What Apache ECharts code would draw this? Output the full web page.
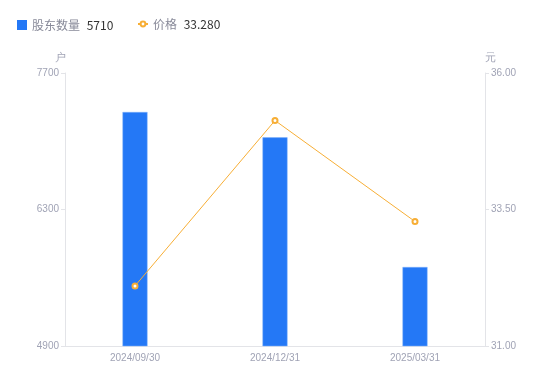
<!DOCTYPE html>
<html>
<head>
<meta charset="utf-8">
<script src="https://cdn.jsdelivr.net/npm/echarts@6/dist/echarts.min.js"></script>
<style>
  html, body { margin: 0; padding: 0; background: #fff; }
  #chart-container { width: 550px; height: 381px; }
</style>
</head>
<body>
<div id="chart-container"></div>
<script>
const dates = ["2024/09/30", "2024/12/31", "2025/03/31"];
const holders = [7300, 7040, 5710];
const prices = [32.10, 35.13, 33.28];
const holderTicks = [4900, 7700, 1400];
const priceTicks = [31, 36, 2.5];

const chart = echarts.init(document.getElementById("chart-container"));

const labelColor = "#a0a3b5";
const lineColor = "#e3e4e8";
const barColor = "#2478f6";
const priceColor = "#f7ae35";

const legendText = {
  fontFamily: "Noto Sans CJK SC",
  fontSize: 12,
  rich: {
    n: { color: "#888a99", fontSize: 12 },
    v: { color: "#333", fontSize: 12, padding: [0, 0, 0, 4] }
  }
};

const option = {
  animation: false,
  legend: [
    {
      left: 12,
      top: 14,
      itemWidth: 10,
      itemHeight: 10,
      textStyle: legendText,
      formatter: (name) => "{n|" + name + "} {v|" + holders[holders.length - 1] + "}",
      data: [{ name: "股东数量", icon: "rect", itemStyle: { borderWidth: 0 } }]
    },
    {
      left: 132,
      top: 13,
      itemWidth: 10,
      itemHeight: 6,
      textStyle: legendText,
      formatter: (name) => "{n|" + name + "} {v|" + prices[prices.length - 1].toFixed(3) + "}",
      data: [{ name: "价格", itemStyle: { borderWidth: 1.2 } }]
    }
  ],
  grid: { left: 65, right: 65, top: 73, bottom: 35 },
  xAxis: {
    type: "category",
    data: dates,
    axisLine: { lineStyle: { color: lineColor } },
    axisTick: { show: false },
    axisLabel: { color: labelColor, fontSize: 10, margin: 7 }
  },
  yAxis: [
    {
      type: "value",
      name: "户",
      nameGap: 10,
      nameTextStyle: { color: labelColor, fontSize: 11, padding: [0, 0, 0, -10] },
      min: holderTicks[0],
      max: holderTicks[1],
      interval: holderTicks[2],
      axisLine: { show: true, lineStyle: { color: lineColor } },
      axisTick: { show: true, length: 4, lineStyle: { color: lineColor } },
      axisLabel: { color: labelColor, fontSize: 10, margin: 6, formatter: (v) => String(v) },
      splitLine: { show: false }
    },
    {
      type: "value",
      name: "元",
      nameGap: 10,
      nameTextStyle: { color: labelColor, fontSize: 11, padding: [0, 0, 0, 10] },
      min: priceTicks[0],
      max: priceTicks[1],
      interval: priceTicks[2],
      axisLine: { show: true, lineStyle: { color: lineColor } },
      axisTick: { show: true, length: 4, lineStyle: { color: lineColor } },
      axisLabel: { color: labelColor, fontSize: 10, margin: 6, formatter: (v) => v.toFixed(2) },
      splitLine: { show: false }
    }
  ],
  series: [
    {
      name: "股东数量",
      type: "bar",
      data: holders,
      barWidth: 25,
      itemStyle: { color: barColor, borderColor: "#7fb0fa", borderWidth: 0.5 }
    },
    {
      name: "价格",
      type: "line",
      yAxisIndex: 1,
      data: prices,
      symbol: "emptyCircle",
      symbolSize: 5,
      itemStyle: { color: priceColor, borderWidth: 1.5 },
      lineStyle: { color: priceColor, width: 1 }
    }
  ]
};

chart.setOption(option);
</script>
</body>
</html>
